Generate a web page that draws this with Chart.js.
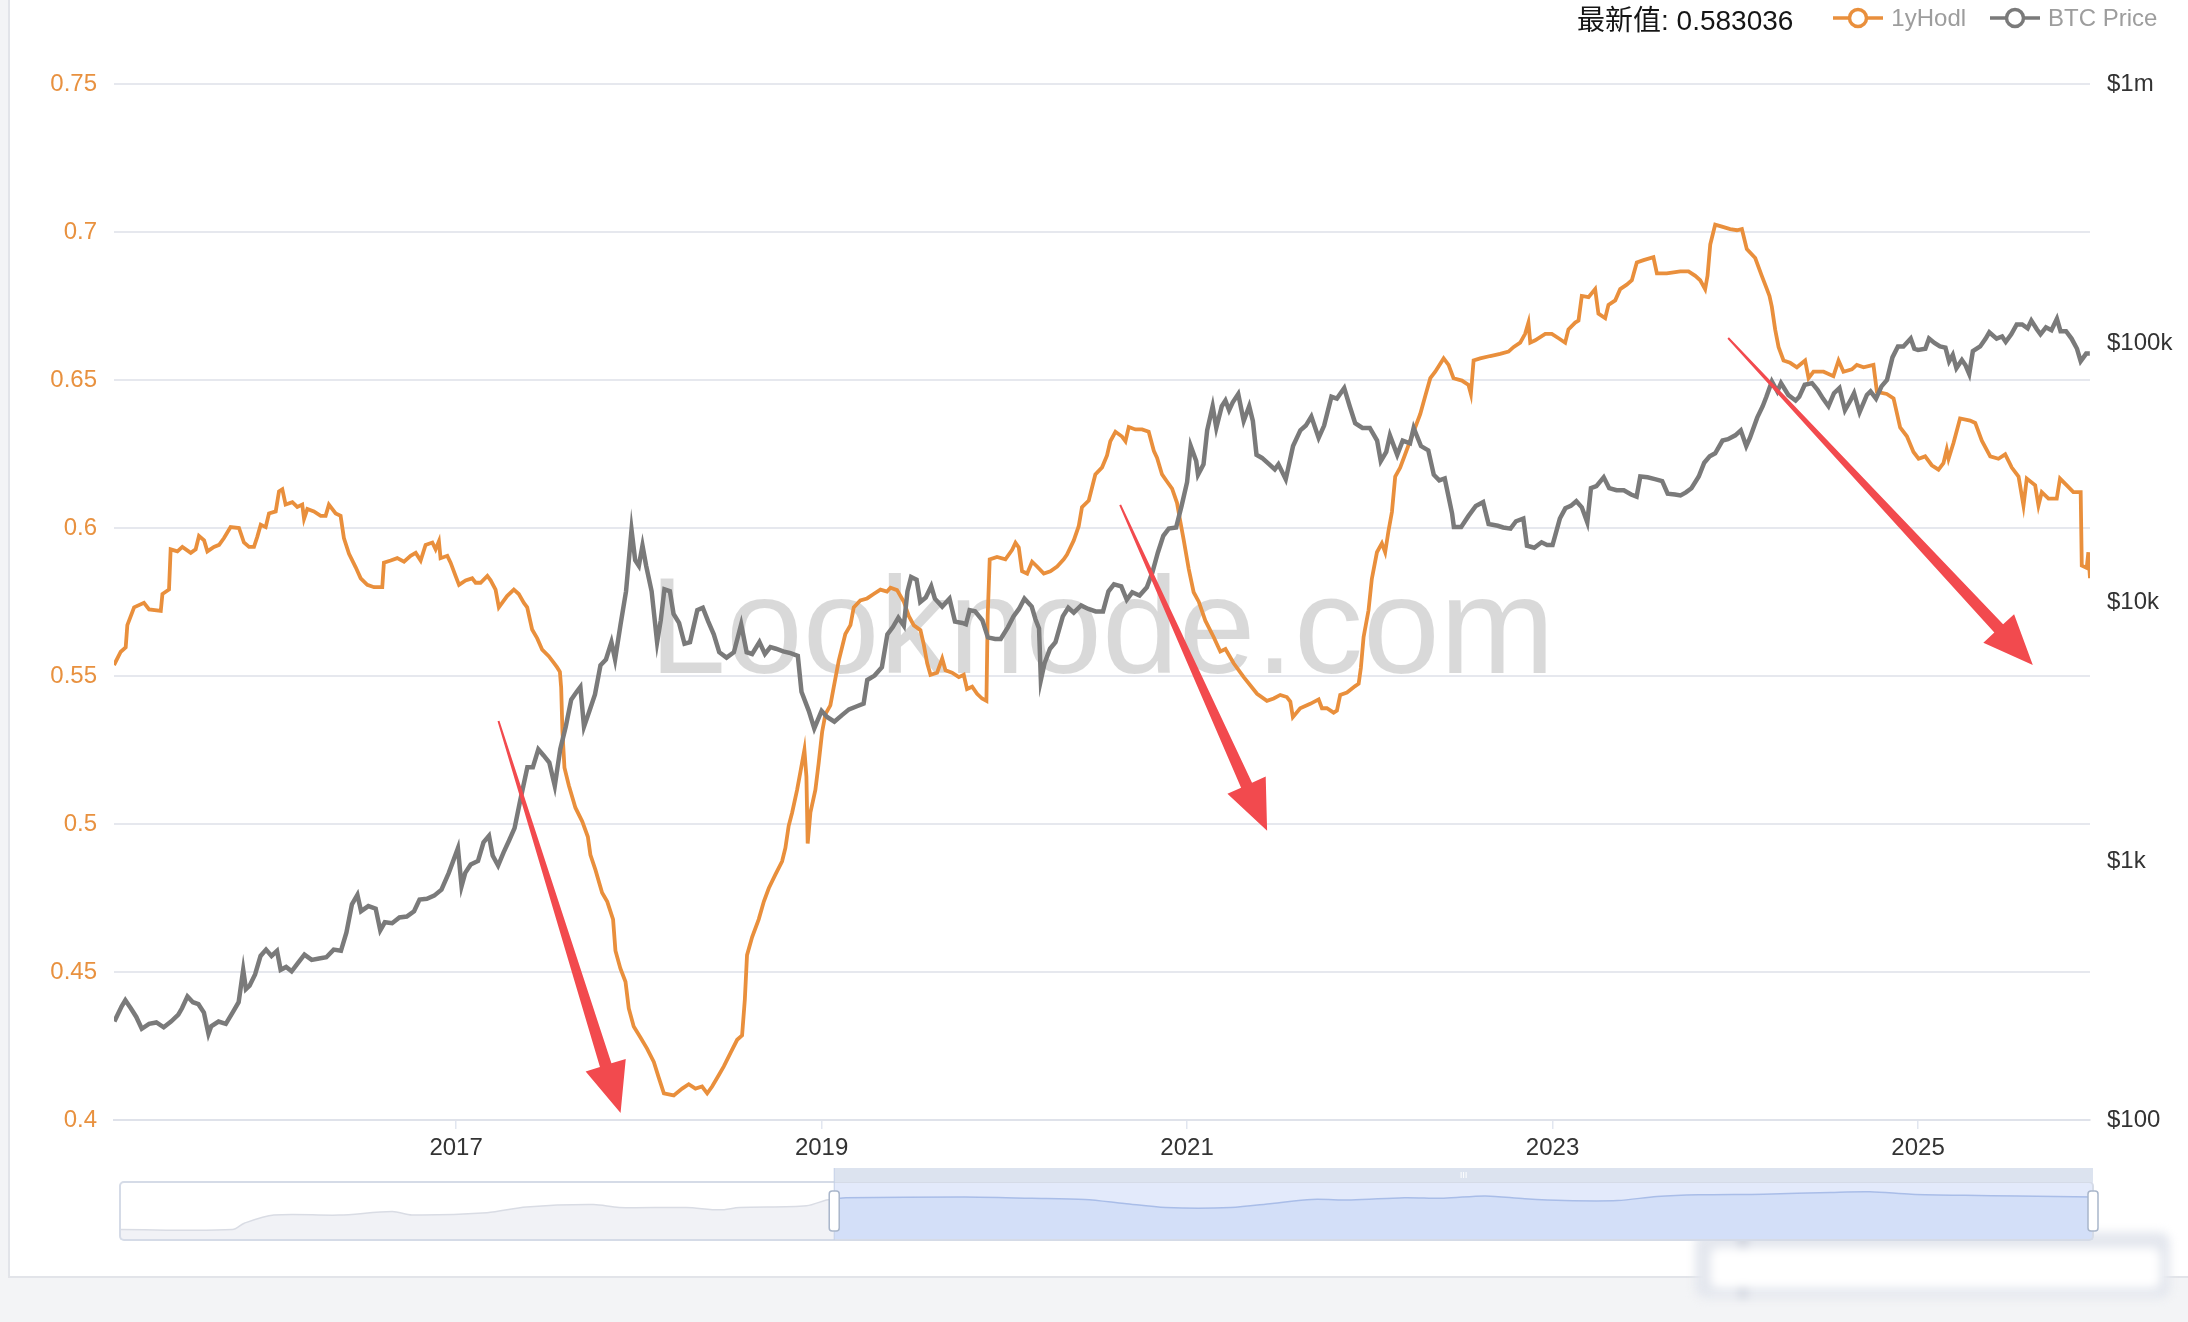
<!DOCTYPE html>
<html lang="zh">
<head>
<meta charset="utf-8">
<title>1yHodl / BTC Price</title>
<script src="https://cdn.jsdelivr.net/npm/chart.js@4.4.1/dist/chart.umd.min.js"></script>
<style>
  html, body { margin: 0; padding: 0; }
  body {
    width: 2188px; height: 1322px; overflow: hidden; position: relative;
    background: #f3f4f6;
    font-family: "Liberation Sans", Arial, "Noto Sans CJK SC", sans-serif;
  }
  .card {
    position: absolute; left: 8px; top: 0; width: 2180px; height: 1276px;
    background: #fff; border-left: 2px solid #e2e4e9; border-bottom: 2px solid #e2e4e9;
  }
  #main { position: absolute; left: 0; top: 0; }
  #slider { position: absolute; left: 110px; top: 1160px; }
  .head {
    position: absolute; left: 1577px; top: 0; height: 36px;
    display: flex; align-items: center; white-space: nowrap;
  }
  .latest { font-size: 28px; color: #151515; margin-right: 40px; }
  .item { display: flex; align-items: center; font-size: 24px; color: #9d9d9d; margin-right: 24px; }
  .item svg { margin-right: 8px; }
  .blur {
    position: absolute; left: 1695px; top: 1232px; width: 475px; height: 66px;
    border-radius: 10px; background: #e4e7ee; filter: blur(5px);
  }
  .blur::before {
    content: ""; position: absolute; left: 44px; top: 0; width: 8px; bottom: 0;
    background: #c9ced9;
  }
  .blur::after {
    content: ""; position: absolute; left: 16px; top: 16px; right: 10px; bottom: 10px;
    background: #fff; border-radius: 8px;
  }
</style>
</head>
<body>
<div class="card"></div>
<div class="blur"></div>
<canvas id="main" width="2188" height="1322"></canvas>
<canvas id="slider" width="1995" height="90"></canvas>
<div class="head">
  <span class="latest">最新值: 0.583036</span>
  <span class="item">
    <svg width="50" height="24"><line x1="0" y1="12" x2="50" y2="12" stroke="#e98f3c" stroke-width="3.5"/><circle cx="25" cy="12" r="8.5" fill="#fff" stroke="#e98f3c" stroke-width="3.5"/></svg>
    1yHodl
  </span>
  <span class="item">
    <svg width="50" height="24"><line x1="0" y1="12" x2="50" y2="12" stroke="#7a7a7a" stroke-width="3.5"/><circle cx="25" cy="12" r="8.5" fill="#fff" stroke="#7a7a7a" stroke-width="3.5"/></svg>
    BTC Price
  </span>
</div>
<script>
// 1yHodl (decimal years)
const hodlYears = [
  2015.128, 2015.165, 2015.192, 2015.201, 2015.238, 2015.292, 2015.320, 2015.384, 2015.393, 2015.429,
  2015.438, 2015.475, 2015.502, 2015.548, 2015.575, 2015.593, 2015.621, 2015.639, 2015.675, 2015.703,
  2015.730, 2015.766, 2015.812, 2015.839, 2015.867, 2015.894, 2015.912, 2015.931, 2015.958, 2015.976,
  2016.013, 2016.031, 2016.049, 2016.067, 2016.104, 2016.131, 2016.158, 2016.168, 2016.186, 2016.222,
  2016.259, 2016.286, 2016.304, 2016.341, 2016.368, 2016.386, 2016.414, 2016.450, 2016.478, 2016.514,
  2016.551, 2016.596, 2016.605, 2016.642, 2016.678, 2016.715, 2016.751, 2016.779, 2016.806, 2016.833,
  2016.870, 2016.888, 2016.906, 2016.915, 2016.952, 2016.970, 2016.997, 2017.016, 2017.052, 2017.088,
  2017.107, 2017.134, 2017.171, 2017.189, 2017.216, 2017.234, 2017.279, 2017.316, 2017.343, 2017.371,
  2017.389, 2017.416, 2017.444, 2017.471, 2017.507, 2017.535, 2017.553, 2017.568, 2017.575, 2017.582,
  2017.593, 2017.617, 2017.653, 2017.690, 2017.721, 2017.735, 2017.763, 2017.799, 2017.827, 2017.859,
  2017.872, 2017.899, 2017.927, 2017.945, 2017.972, 2018.009, 2018.045, 2018.082, 2018.109, 2018.137,
  2018.191, 2018.237, 2018.273, 2018.310, 2018.346, 2018.374, 2018.401, 2018.437, 2018.465, 2018.501,
  2018.538, 2018.565, 2018.580, 2018.592, 2018.620, 2018.656, 2018.684, 2018.711, 2018.747, 2018.784,
  2018.802, 2018.820, 2018.839, 2018.866, 2018.884, 2018.906, 2018.917, 2018.924, 2018.939, 2018.966,
  2018.984, 2019.003, 2019.021, 2019.048, 2019.066, 2019.094, 2019.130, 2019.158, 2019.176, 2019.212,
  2019.249, 2019.285, 2019.322, 2019.358, 2019.377, 2019.413, 2019.450, 2019.477, 2019.505, 2019.541,
  2019.559, 2019.578, 2019.596, 2019.632, 2019.660, 2019.678, 2019.714, 2019.751, 2019.778, 2019.796,
  2019.824, 2019.851, 2019.878, 2019.902, 2019.909, 2019.920, 2019.960, 2020.006, 2020.043, 2020.061,
  2020.079, 2020.097, 2020.125, 2020.152, 2020.179, 2020.216, 2020.252, 2020.289, 2020.325, 2020.343,
  2020.380, 2020.407, 2020.425, 2020.462, 2020.498, 2020.535, 2020.562, 2020.580, 2020.608, 2020.644,
  2020.663, 2020.681, 2020.717, 2020.754, 2020.790, 2020.818, 2020.836, 2020.863, 2020.890, 2020.918,
  2020.945, 2020.963, 2020.982, 2021.009, 2021.036, 2021.064, 2021.100, 2021.146, 2021.182, 2021.210,
  2021.255, 2021.310, 2021.383, 2021.437, 2021.474, 2021.510, 2021.546, 2021.565, 2021.579, 2021.619,
  2021.674, 2021.720, 2021.738, 2021.765, 2021.802, 2021.820, 2021.838, 2021.875, 2021.920, 2021.939,
  2021.951, 2021.966, 2021.993, 2022.011, 2022.039, 2022.066, 2022.084, 2022.103, 2022.121, 2022.139,
  2022.166, 2022.194, 2022.230, 2022.276, 2022.303, 2022.331, 2022.358, 2022.404, 2022.431, 2022.458,
  2022.504, 2022.540, 2022.553, 2022.568, 2022.604, 2022.659, 2022.713, 2022.759, 2022.786, 2022.823,
  2022.850, 2022.868, 2022.878, 2022.905, 2022.960, 2022.996, 2023.033, 2023.069, 2023.087, 2023.124,
  2023.142, 2023.160, 2023.197, 2023.233, 2023.251, 2023.288, 2023.306, 2023.343, 2023.370, 2023.406,
  2023.434, 2023.461, 2023.498, 2023.552, 2023.571, 2023.625, 2023.699, 2023.744, 2023.781, 2023.808,
  2023.835, 2023.848, 2023.863, 2023.890, 2023.927, 2023.972, 2024.009, 2024.036, 2024.063, 2024.109,
  2024.145, 2024.173, 2024.187, 2024.200, 2024.218, 2024.237, 2024.264, 2024.300, 2024.337, 2024.382,
  2024.401, 2024.428, 2024.483, 2024.537, 2024.565, 2024.592, 2024.638, 2024.665, 2024.702, 2024.756,
  2024.775, 2024.829, 2024.866, 2024.902, 2024.939, 2024.975, 2025.003, 2025.039, 2025.075, 2025.112,
  2025.139, 2025.157, 2025.167, 2025.194, 2025.230, 2025.285, 2025.313, 2025.349, 2025.395, 2025.440,
  2025.477, 2025.513, 2025.550, 2025.577, 2025.595, 2025.641, 2025.659, 2025.677, 2025.714, 2025.759,
  2025.777, 2025.814, 2025.850, 2025.890, 2025.896, 2025.923, 2025.932, 2025.941
];
const hodlValues = [
  0.5537, 0.5582, 0.5597, 0.5672, 0.5732, 0.5747, 0.5725, 0.5720, 0.5777, 0.5792,
  0.5928, 0.5921, 0.5936, 0.5916, 0.5928, 0.5973, 0.5958, 0.5921, 0.5936, 0.5943,
  0.5966, 0.6003, 0.6000, 0.5951, 0.5936, 0.5936, 0.5970, 0.6011, 0.6003, 0.6049,
  0.6056, 0.6124, 0.6131, 0.6079, 0.6087, 0.6071, 0.6079, 0.6031, 0.6064, 0.6056,
  0.6041, 0.6041, 0.6079, 0.6049, 0.6041, 0.5966, 0.5913, 0.5868, 0.5830, 0.5808,
  0.5800, 0.5800, 0.5883, 0.5890, 0.5898, 0.5886, 0.5906, 0.5916, 0.5890, 0.5943,
  0.5951, 0.5928, 0.5955, 0.5898, 0.5906, 0.5883, 0.5838, 0.5808, 0.5823, 0.5830,
  0.5815, 0.5815, 0.5838, 0.5823, 0.5792, 0.5732, 0.5770, 0.5792, 0.5777, 0.5747,
  0.5732, 0.5657, 0.5627, 0.5589, 0.5567, 0.5544, 0.5529, 0.5514, 0.5461, 0.5311,
  0.5190, 0.5130, 0.5055, 0.5009, 0.4957, 0.4896, 0.4844, 0.4768, 0.4738, 0.4678,
  0.4572, 0.4512, 0.4467, 0.4377, 0.4316, 0.4279, 0.4241, 0.4196, 0.4143, 0.4090,
  0.4083, 0.4106, 0.4121, 0.4106, 0.4113, 0.4090, 0.4113, 0.4151, 0.4181, 0.4226,
  0.4271, 0.4286, 0.4407, 0.4557, 0.4618, 0.4678, 0.4738, 0.4783, 0.4829, 0.4874,
  0.4919, 0.4994, 0.5039, 0.5115, 0.5175, 0.5250, 0.5160, 0.4934, 0.5039, 0.5115,
  0.5205, 0.5311, 0.5371, 0.5401, 0.5461, 0.5552, 0.5642, 0.5672, 0.5732, 0.5755,
  0.5762, 0.5777, 0.5792, 0.5785, 0.5798, 0.5790, 0.5751, 0.5703, 0.5671, 0.5655,
  0.5607, 0.5543, 0.5504, 0.5511, 0.5559, 0.5519, 0.5511, 0.5496, 0.5504, 0.5456,
  0.5464, 0.5440, 0.5424, 0.5416, 0.5703, 0.5894, 0.5902, 0.5894, 0.5926, 0.5950,
  0.5934, 0.5854, 0.5846, 0.5886, 0.5870, 0.5846, 0.5854, 0.5870, 0.5894, 0.5910,
  0.5958, 0.6006, 0.6070, 0.6093, 0.6181, 0.6205, 0.6245, 0.6293, 0.6325, 0.6309,
  0.6293, 0.6341, 0.6333, 0.6333, 0.6325, 0.6261, 0.6237, 0.6181, 0.6157, 0.6133,
  0.6085, 0.6022, 0.5958, 0.5862, 0.5783, 0.5751, 0.5687, 0.5631, 0.5583, 0.5591,
  0.5543, 0.5496, 0.5440, 0.5416, 0.5424, 0.5436, 0.5429, 0.5414, 0.5361, 0.5391,
  0.5406, 0.5421, 0.5391, 0.5391, 0.5376, 0.5383, 0.5436, 0.5444, 0.5466, 0.5474,
  0.5527, 0.5632, 0.5722, 0.5828, 0.5918, 0.5948, 0.5918, 0.5993, 0.6054, 0.6174,
  0.6204, 0.6250, 0.6310, 0.6385, 0.6445, 0.6506, 0.6528, 0.6573, 0.6551, 0.6506,
  0.6498, 0.6483, 0.6453, 0.6566, 0.6573, 0.6581, 0.6588, 0.6596, 0.6611, 0.6626,
  0.6656, 0.6694, 0.6626, 0.6634, 0.6656, 0.6656, 0.6641, 0.6626, 0.6671, 0.6694,
  0.6701, 0.6784, 0.6780, 0.6807, 0.6724, 0.6709, 0.6754, 0.6769, 0.6807, 0.6822,
  0.6837, 0.6897, 0.6905, 0.6915, 0.6860, 0.6860, 0.6867, 0.6867, 0.6852, 0.6837,
  0.6807, 0.6852, 0.6958, 0.7025, 0.7018, 0.7010, 0.7006, 0.7010, 0.6942, 0.6912,
  0.6852, 0.6807, 0.6784, 0.6747, 0.6671, 0.6611, 0.6566, 0.6558, 0.6543, 0.6566,
  0.6506, 0.6528, 0.6528, 0.6513, 0.6566, 0.6528, 0.6536, 0.6551, 0.6543, 0.6551,
  0.6460, 0.6453, 0.6438, 0.6340, 0.6310, 0.6257, 0.6234, 0.6242, 0.6212, 0.6197,
  0.6219, 0.6265, 0.6234, 0.6287, 0.6370, 0.6363, 0.6355, 0.6295, 0.6242, 0.6234,
  0.6249, 0.6204, 0.6174, 0.6076, 0.6167, 0.6144, 0.6076, 0.6121, 0.6099, 0.6099,
  0.6167, 0.6144, 0.6121, 0.6121, 0.5873, 0.5865, 0.5918, 0.583036
];

// BTC price in USD
const priceYears = [
  2015.13, 2015.17, 2015.19, 2015.22, 2015.25, 2015.28, 2015.32, 2015.36, 2015.40, 2015.44,
  2015.48, 2015.50, 2015.53, 2015.56, 2015.59, 2015.62, 2015.645, 2015.66, 2015.70, 2015.74,
  2015.78, 2015.81, 2015.835, 2015.85, 2015.87, 2015.90, 2015.93, 2015.96, 2015.99,
  2016.02, 2016.04, 2016.07, 2016.10, 2016.13, 2016.17, 2016.21, 2016.25, 2016.29, 2016.33,
  2016.37, 2016.40, 2016.43, 2016.46, 2016.48, 2016.52, 2016.56, 2016.585, 2016.61, 2016.65,
  2016.69, 2016.73, 2016.77, 2016.80, 2016.84, 2016.88, 2016.92, 2016.96,
  2017.01, 2017.03, 2017.05, 2017.08, 2017.12, 2017.15, 2017.18, 2017.20, 2017.23, 2017.26,
  2017.29, 2017.32, 2017.35, 2017.39, 2017.42, 2017.45, 2017.48, 2017.51, 2017.54, 2017.57,
  2017.60, 2017.63, 2017.66, 2017.68, 2017.70, 2017.73, 2017.76, 2017.79, 2017.82, 2017.85,
  2017.87, 2017.90, 2017.93, 2017.96, 2017.98,
  2018.00, 2018.02, 2018.04, 2018.07, 2018.10, 2018.12, 2018.14, 2018.17, 2018.19, 2018.22,
  2018.25, 2018.28, 2018.32, 2018.35, 2018.38, 2018.41, 2018.44, 2018.48, 2018.52, 2018.56,
  2018.59, 2018.62, 2018.66, 2018.69, 2018.72, 2018.75, 2018.79, 2018.83, 2018.87, 2018.89,
  2018.93, 2018.96,
  2019.00, 2019.03, 2019.07, 2019.11, 2019.15, 2019.19, 2019.23, 2019.25, 2019.29, 2019.33,
  2019.36, 2019.39, 2019.42, 2019.45, 2019.47, 2019.49, 2019.52, 2019.54, 2019.57, 2019.60,
  2019.62, 2019.66, 2019.70, 2019.73, 2019.77, 2019.79, 2019.81, 2019.84, 2019.88, 2019.91,
  2019.95, 2019.98,
  2020.02, 2020.05, 2020.08, 2020.11, 2020.15, 2020.17, 2020.19, 2020.20, 2020.22, 2020.25,
  2020.28, 2020.32, 2020.35, 2020.38, 2020.42, 2020.46, 2020.50, 2020.54, 2020.57, 2020.60,
  2020.64, 2020.67, 2020.70, 2020.74, 2020.78, 2020.81, 2020.84, 2020.87, 2020.90, 2020.94,
  2020.97,
  2021.00, 2021.02, 2021.05, 2021.06, 2021.09, 2021.11, 2021.14, 2021.16, 2021.19, 2021.21,
  2021.23, 2021.25, 2021.28, 2021.31, 2021.34, 2021.36, 2021.38, 2021.41, 2021.45, 2021.48,
  2021.50, 2021.54, 2021.58, 2021.62, 2021.65, 2021.68, 2021.72, 2021.75, 2021.79, 2021.82,
  2021.86, 2021.89, 2021.92, 2021.96,
  2022.00, 2022.04, 2022.06, 2022.09, 2022.11, 2022.15, 2022.18, 2022.22, 2022.24, 2022.28,
  2022.32, 2022.35, 2022.38, 2022.41, 2022.45, 2022.46, 2022.50, 2022.54, 2022.58, 2022.62,
  2022.65, 2022.70, 2022.73, 2022.77, 2022.80, 2022.84, 2022.86, 2022.90, 2022.94, 2022.97,
  2023.00, 2023.04, 2023.07, 2023.10, 2023.13, 2023.16, 2023.19, 2023.21, 2023.24, 2023.28,
  2023.31, 2023.35, 2023.39, 2023.43, 2023.46, 2023.48, 2023.52, 2023.56, 2023.60, 2023.63,
  2023.67, 2023.70, 2023.73, 2023.76, 2023.80, 2023.83, 2023.86, 2023.89, 2023.93, 2023.96,
  2024.00, 2024.03, 2024.06, 2024.08, 2024.12, 2024.15, 2024.17, 2024.20, 2024.23, 2024.25,
  2024.29, 2024.33, 2024.35, 2024.38, 2024.42, 2024.45, 2024.48, 2024.51, 2024.54, 2024.57,
  2024.60, 2024.63, 2024.65, 2024.68, 2024.72, 2024.74, 2024.77, 2024.80, 2024.83, 2024.86,
  2024.89, 2024.92, 2024.96, 2024.98,
  2025.00, 2025.04, 2025.06, 2025.09, 2025.12, 2025.15, 2025.17, 2025.19, 2025.21, 2025.24,
  2025.26, 2025.28, 2025.30, 2025.34, 2025.37, 2025.39, 2025.43, 2025.46, 2025.48, 2025.51,
  2025.54, 2025.57, 2025.60, 2025.62, 2025.65, 2025.67, 2025.70, 2025.73, 2025.76, 2025.78,
  2025.81, 2025.84, 2025.87, 2025.89, 2025.92, 2025.94
];
const priceValues = [
  240, 275, 290, 270, 250, 225, 235, 238, 228, 240,
  255, 270, 300, 285, 280, 260, 215, 230, 240, 235,
  262, 285, 380, 320, 330, 365, 430, 455, 430,
  450, 380, 390, 375, 400, 435, 415, 420, 425, 455,
  450, 530, 680, 740, 640, 670, 655, 540, 580, 575,
  605, 610, 640, 710, 715, 735, 775, 900,
  1120, 800, 900, 970, 1000, 1180, 1250, 1050, 960, 1080,
  1200, 1340, 1700, 2300, 2300, 2700, 2550, 2400, 1950, 2700,
  3300, 4200, 4500, 4700, 3300, 3800, 4400, 5700, 6000, 7000,
  6000, 8200, 11000, 19000, 14500,
  13800, 16500, 13800, 11000, 7000, 8500, 11200, 11000, 9000, 8300,
  6900, 7000, 9300, 9500, 8400, 7500, 6400, 6100, 6400, 8200,
  6400, 6300, 7000, 6300, 6700, 6600, 6450, 6350, 6200, 4500,
  3800, 3250,
  3800, 3600, 3450, 3650, 3850, 3950, 4050, 5000, 5200, 5600,
  7500, 8000, 8700, 8100, 11000, 12500, 12200, 10000, 10400, 11500,
  10300, 9600, 10300, 8400, 8300, 8200, 9300, 9200, 8500, 7300,
  7200, 7200,
  8000, 8800, 9400, 10300, 9600, 8600, 7900, 5000, 5800, 6600,
  7000, 8800, 9500, 9100, 9700, 9400, 9200, 9200, 11000, 11700,
  11500, 10200, 10900, 10600, 11400, 13000, 15500, 18000, 19200, 19400,
  23500,
  29000, 40000, 35000, 31000, 34000, 46000, 57000, 47000, 57000, 60000,
  55000, 59000, 63500, 50000, 57000, 50000, 37000, 36000, 34000, 32500,
  34000, 29800, 40000, 46000, 48000, 52000, 43000, 48000, 62000, 61000,
  67000, 57000, 49000, 47000,
  47000, 42000, 35000, 38000, 44000, 37000, 42000, 41000, 47000, 40000,
  38500, 31000, 29500, 30000, 22000, 19500, 19500, 21500, 23500, 24300,
  20000, 19700, 19400, 19200, 20500, 21000, 16500, 16200, 17000, 16600,
  16600, 21000, 23000, 23500, 24500, 23200, 20300, 27500, 28000, 30300,
  27500, 27000, 27000, 26000, 25500, 30500, 30300, 29800, 29300, 26200,
  26000, 25800, 26500, 27500, 30500, 34500, 36500, 37500, 42000, 42500,
  44000, 46000, 40000, 43000, 51500, 57000, 62000, 71000, 65000, 70000,
  63000, 60000, 62000, 69000, 70000, 66000, 61000, 57000, 64000, 67000,
  55000, 60000, 64000, 54000, 63000, 65000, 61000, 68000, 72000, 88000,
  97000, 97000, 104000, 95000,
  94000, 95000, 104000, 100000, 97000, 96000, 85000, 90000, 80000, 86000,
  82000, 76000, 93000, 97000, 104000, 110000, 104000, 106000, 101000, 108000,
  118000, 118000, 114000, 122000, 113000, 108000, 115000, 112000, 124000, 111000,
  111000, 104000, 95000, 85000, 91000, 91000
];

const yearTicks = [2017, 2019, 2021, 2023, 2025];
const hodlTicks = [0.4, 0.45, 0.5, 0.55, 0.6, 0.65, 0.7, 0.75];
const priceTicks = [100, 1000, 10000, 100000, 1000000];
const priceTickLabels = ['$100', '$1k', '$10k', '$100k', '$1m'];

// hand-drawn arrows on the screenshot, in (year, 1yHodl) coordinates
const arrows = [
  { from: [2017.232, 0.5348], to: [2017.900, 0.4024] },
  { from: [2020.634, 0.6078], to: [2021.438, 0.4977] },
  { from: [2023.961, 0.6642], to: [2025.628, 0.5537] }
];

// dataZoom preview strip (0..1 across the slider, 0..100 height)
const previewX = [0, 0.057, 0.063, 0.078, 0.111, 0.138, 0.148, 0.186, 0.206, 0.240,
  0.253, 0.287, 0.304, 0.314, 0.348, 0.358, 0.362, 0.368, 0.428, 0.462, 0.489,
  0.509, 0.530, 0.563, 0.584, 0.604, 0.624, 0.651, 0.671, 0.692, 0.712,
  0.732, 0.759, 0.779, 0.800, 0.833, 0.867, 0.887, 0.908, 0.935, 0.962, 1];
const previewY = [18, 18, 29, 43, 43, 49, 43, 47, 57, 61,
  56, 56, 52, 56, 59, 69, 71, 73, 74, 72, 70,
  63, 56, 56, 63, 70, 69, 73, 72, 76, 71,
  68, 68, 75, 78, 79, 82, 83, 79, 77, 76, 74];
const sliderStart = 0.362;

const FONT = '"Liberation Sans", Arial, "Noto Sans CJK SC", sans-serif';
Chart.defaults.font.family = FONT;

const watermark = {
  id: 'watermark',
  beforeDatasetsDraw(chart) {
    const { ctx, chartArea: a } = chart;
    ctx.save();
    ctx.font = '138px ' + FONT;
    ctx.fillStyle = 'rgba(0,0,0,0.15)';
    ctx.textAlign = 'center';
    ctx.textBaseline = 'alphabetic';
    ctx.fillText('Looknode.com', (a.left + a.right) / 2, a.top + a.height * 0.569);
    ctx.restore();
  }
};

const arrowMarks = {
  id: 'arrowMarks',
  afterDatasetsDraw(chart) {
    const { ctx, scales: { x, y } } = chart;
    ctx.save();
    ctx.fillStyle = '#f24a4e';
    arrows.forEach(ar => {
      const x0 = x.getPixelForValue(ar.from[0]), y0 = y.getPixelForValue(ar.from[1]);
      const x1 = x.getPixelForValue(ar.to[0]), y1 = y.getPixelForValue(ar.to[1]);
      const len = Math.hypot(x1 - x0, y1 - y0);
      const ux = (x1 - x0) / len, uy = (y1 - y0) / len;
      const nx = -uy, ny = ux;
      const head = 50, hw = 21, sw = 6, tw = 1;
      const bx = x1 - ux * head, by = y1 - uy * head;
      ctx.beginPath();
      ctx.moveTo(x0 + nx * tw, y0 + ny * tw);
      ctx.lineTo(bx + nx * sw, by + ny * sw);
      ctx.lineTo(bx + nx * hw, by + ny * hw);
      ctx.lineTo(x1, y1);
      ctx.lineTo(bx - nx * hw, by - ny * hw);
      ctx.lineTo(bx - nx * sw, by - ny * sw);
      ctx.lineTo(x0 - nx * tw, y0 - ny * tw);
      ctx.closePath();
      ctx.fill();
    });
    ctx.restore();
  }
};

new Chart(document.getElementById('main'), {
  type: 'line',
  data: {
    datasets: [
      {
        label: '1yHodl',
        data: hodlYears.map((t, i) => ({ x: t, y: hodlValues[i] })),
        yAxisID: 'y',
        borderColor: '#e98f3c',
        borderWidth: 3.8,
        pointRadius: 0,
        order: 1
      },
      {
        label: 'BTC Price',
        data: priceYears.map((t, i) => ({ x: t, y: priceValues[i] })),
        yAxisID: 'price',
        borderColor: '#7a7a7a',
        borderWidth: 4.5,
        pointRadius: 0,
        order: 0
      }
    ]
  },
  options: {
    responsive: false,
    animation: false,
    devicePixelRatio: 1,
    layout: { padding: { top: 84, bottom: 162, left: 0, right: 0 } },
    plugins: { legend: { display: false }, tooltip: { enabled: false } },
    scales: {
      x: {
        type: 'linear',
        min: 2015.128,
        max: 2025.941,
        afterBuildTicks: s => { s.ticks = yearTicks.map(v => ({ value: v })); },
        afterFit: s => { s.height = 40; },
        grid: { drawOnChartArea: false, drawTicks: true, tickLength: 9, color: '#e1e6f0', lineWidth: 1.5 },
        border: { color: '#dfe2ea', width: 2 },
        ticks: { color: '#333', font: { size: 24 }, padding: 5, maxRotation: 0, callback: v => String(v) }
      },
      y: {
        position: 'left',
        min: 0.4,
        max: 0.75,
        afterBuildTicks: s => { s.ticks = hodlTicks.map(v => ({ value: v })); },
        afterFit: s => { s.width = 114; },
        grid: { color: '#e6e8ee', lineWidth: 2, drawTicks: false },
        border: { display: false },
        ticks: { color: '#e8913f', font: { size: 24 }, padding: 17, callback: v => String(+v.toFixed(2)) }
      },
      price: {
        type: 'logarithmic',
        position: 'right',
        min: 100,
        max: 1000000,
        afterBuildTicks: s => { s.ticks = priceTicks.map(v => ({ value: v })); },
        afterFit: s => { s.width = 98; },
        grid: { drawOnChartArea: false, drawTicks: false },
        border: { display: false },
        ticks: { color: '#333', font: { size: 24 }, padding: 17, callback: v => priceTickLabels[priceTicks.indexOf(v)] }
      }
    }
  },
  plugins: [watermark, arrowMarks]
});

// slider below the x axis: window background, frame, move bar, handles
const sliderFrame = {
  id: 'sliderFrame',
  beforeDatasetsDraw(chart) {
    const { ctx, chartArea: a, scales: { x } } = chart;
    const sx = x.getPixelForValue(sliderStart);
    ctx.save();
    ctx.fillStyle = '#fff';
    ctx.fillRect(a.left, a.top, a.width, a.height);
    ctx.fillStyle = '#e3eafb';
    ctx.fillRect(sx, a.top, a.right - sx, a.height);
    ctx.restore();
  },
  afterDatasetsDraw(chart) {
    const { ctx, chartArea: a, scales: { x } } = chart;
    const sx = x.getPixelForValue(sliderStart);
    ctx.save();
    ctx.strokeStyle = '#d5dbe7';
    ctx.lineWidth = 2;
    ctx.beginPath();
    ctx.roundRect(a.left, a.top, a.width, a.height, 4);
    ctx.stroke();
    ctx.fillStyle = '#dce3ef';
    ctx.fillRect(sx, a.top - 14, a.right - sx, 14);
    ctx.strokeStyle = '#fff';
    ctx.lineWidth = 1;
    const mid = (sx + a.right) / 2;
    for (let i = -1; i <= 1; i++) {
      ctx.beginPath();
      ctx.moveTo(mid + i * 2.5, a.top - 10);
      ctx.lineTo(mid + i * 2.5, a.top - 4);
      ctx.stroke();
    }
    ctx.strokeStyle = '#c3cfe6';
    ctx.beginPath();
    ctx.moveTo(sx, a.top - 14);
    ctx.lineTo(sx, a.bottom);
    ctx.stroke();
    [sx, a.right].forEach(hx => {
      ctx.fillStyle = '#fff';
      ctx.strokeStyle = '#a9b6ca';
      ctx.lineWidth = 1.5;
      ctx.beginPath();
      ctx.roundRect(hx - 5, a.top + 9, 10, 40, 3);
      ctx.fill();
      ctx.stroke();
    });
    ctx.restore();
  }
};

const previewData = previewX.map((t, i) => ({ x: t, y: previewY[i] }));

new Chart(document.getElementById('slider'), {
  type: 'line',
  data: {
    datasets: [
      {
        data: previewData.filter(p => p.x <= sliderStart),
        borderColor: '#d9dce4', borderWidth: 1.5, backgroundColor: '#f1f2f6',
        fill: 'start', pointRadius: 0, tension: 0.3
      },
      {
        data: previewData.filter(p => p.x >= sliderStart),
        borderColor: '#a9bde8', borderWidth: 1.5, backgroundColor: '#d3dff8',
        fill: 'start', pointRadius: 0, tension: 0.3
      }
    ]
  },
  options: {
    responsive: false,
    animation: false,
    devicePixelRatio: 1,
    layout: { padding: { left: 10, right: 12, top: 22, bottom: 10 } },
    plugins: { legend: { display: false }, tooltip: { enabled: false } },
    scales: {
      x: { type: 'linear', min: 0, max: 1, display: false },
      y: { min: 0, max: 100, display: false }
    }
  },
  plugins: [sliderFrame]
});
</script>
</body>
</html>
